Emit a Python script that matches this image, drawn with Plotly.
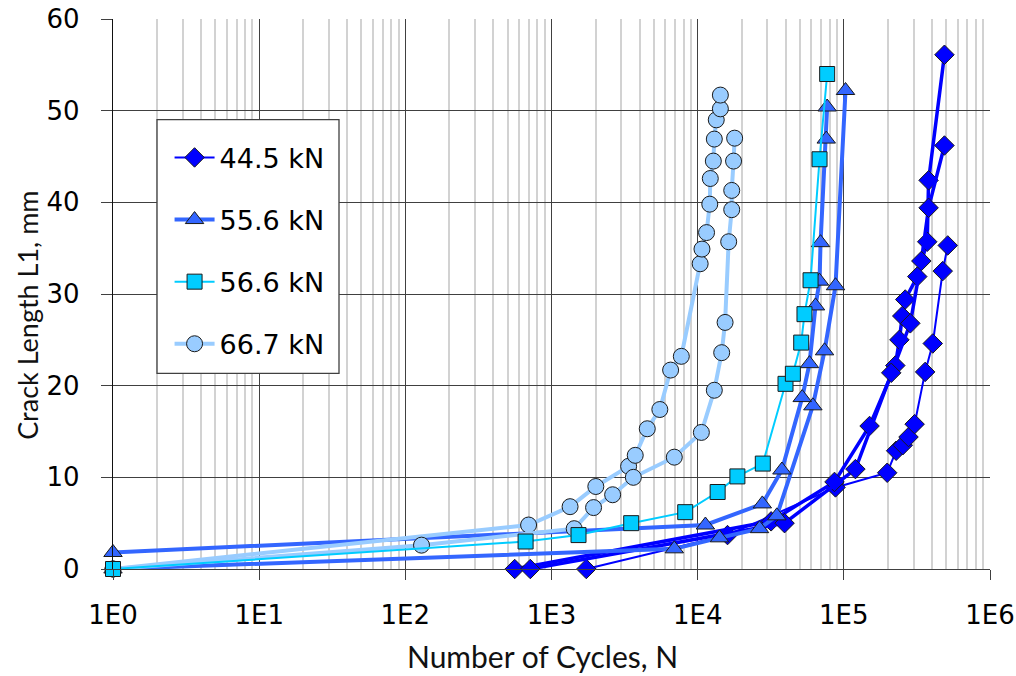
import plotly.graph_objects as go

# ---- crack growth data: cycles N and crack length L1 (mm) per specimen ----
# 44.5 kN (three specimens)
n_445_a = [560, 31800, 86300, 150000, 225000, 240000, 251000, 263000, 318000, 372000, 380000, 488000]
l_445_a = [0, 5.2, 9.5, 15.6, 22.2, 25.0, 27.6, 29.4, 31.9, 35.7, 42.4, 56.1]
n_445_b = [716, 39300, 120000, 211000, 285000, 339000, 380000, 488000]
l_445_b = [0, 5.0, 10.9, 21.4, 26.8, 33.6, 39.4, 46.2]
n_445_c = [1730, 16000, 87700, 198000, 228000, 253000, 277000, 305000, 360000, 406000, 475000, 514000]
l_445_c = [0, 3.7, 8.9, 10.5, 12.9, 13.5, 14.4, 15.8, 21.5, 24.6, 32.5, 35.3]

# 55.6 kN (two specimens)
n_556_a = [1, 6920, 14100, 26500, 34800, 61400, 73800, 87700, 102700]
l_556_a = [0, 2.2, 3.4, 4.4, 5.8, 17.8, 23.8, 30.9, 52.2]
n_556_b = [1, 11300, 27700, 37700, 51900, 58200, 64000, 68200, 69300, 75800, 76900]
l_556_b = [1.8, 4.8, 7.1, 10.8, 18.7, 22.4, 28.7, 31.4, 35.6, 46.9, 50.4]

# 56.6 kN (one specimen)
n_566 = [1, 665, 1530, 3510, 8220, 13700, 18700, 27900, 39900, 44800, 51100, 53800, 59200, 68200, 76900]
l_566 = [0, 3.0, 3.7, 5.0, 6.2, 8.4, 10.1, 11.5, 20.2, 21.3, 24.7, 27.8, 31.5, 44.7, 54.0]

# 66.7 kN (two specimens)
n_667_a = [1, 697, 1340, 2010, 3370, 3740, 4520, 5510, 6530, 7730, 10400, 10700, 11500, 12100,
           12200, 12800, 13000, 13400, 14300, 14300]
l_667_a = [0, 4.8, 6.8, 9.0, 11.2, 12.4, 15.3, 17.4, 21.7, 23.2, 33.3, 34.9, 36.7, 39.8,
           42.6, 44.5, 46.9, 49.0, 50.2, 51.7]
n_667_b = [1, 129, 1430, 1940, 2620, 3630, 6920, 10600, 13000, 14600, 15400, 16300, 17100,
           17100, 17600, 17900]
l_667_b = [0, 2.6, 4.4, 6.7, 8.1, 10.0, 12.2, 14.9, 19.5, 23.6, 26.9, 35.7, 39.2,
           41.3, 44.5, 47.0]

x_tick_vals = [1, 10, 100, 1000, 10000, 100000, 1000000]
x_tick_text = ["1E0", "1E1", "1E2", "1E3", "1E4", "1E5", "1E6"]
y_tick_vals = [0, 10, 20, 30, 40, 50, 60]

# ---- series styling ----
series = [
    # name, color, symbol, marker size, legend rank, specimens (x, y, line width)
    ("44.5 kN", "#0000FF", "diamond", 15, 1,
     [(n_445_c, l_445_c, 2), (n_445_a, l_445_a, 3.5), (n_445_b, l_445_b, 3.5)]),
    ("55.6 kN", "#3366FF", "triangle-up", 16, 2,
     [(n_556_a, l_556_a, 4), (n_556_b, l_556_b, 4)]),
    ("66.7 kN", "#99CCFF", "circle", 16, 4,
     [(n_667_a, l_667_a, 4), (n_667_b, l_667_b, 4)]),
    ("56.6 kN", "#00CCFF", "square", 15, 3,
     [(n_566, l_566, 2)]),
]

fig = go.Figure()
for name, color, symbol, msize, rank, specimens in series:
    for i, (nn, ll, w) in enumerate(specimens):
        fig.add_trace(go.Scatter(
            x=nn, y=ll, name=name, mode="lines+markers",
            legendgroup=name, showlegend=(i == 0), legendrank=rank,
            line=dict(color=color, width=w),
            marker=dict(symbol=symbol, size=msize, color=color,
                        line=dict(color="#1a1a1a", width=1)),
            cliponaxis=False,
        ))

minor_vals = [k * 10 ** d for d in range(6) for k in range(2, 10)]

fig.update_xaxes(
    type="log", range=[0, 6], automargin=False,
    tickmode="array", tickvals=x_tick_vals, ticktext=x_tick_text,
    showgrid=True, gridcolor="#404040", gridwidth=1.3,
    ticks="outside", ticklen=10, tickcolor="#404040", tickwidth=1.3,
    ticklabelstandoff=13,
    showline=True, linecolor="#404040", linewidth=1.3,
    zeroline=False,
    minor=dict(tickmode="array", tickvals=minor_vals, showgrid=True,
               gridcolor="#d2d2d2", gridwidth=1.6, ticks=""),
    tickfont=dict(family="DejaVu Sans", size=26, color="#000000"),
)
fig.update_yaxes(
    range=[0, 60], tickmode="array", tickvals=y_tick_vals, automargin=False,
    showgrid=True, gridcolor="#404040", gridwidth=1.3,
    ticks="outside", ticklen=11, tickcolor="#404040", tickwidth=1.3,
    ticklabelstandoff=16,
    showline=True, linecolor="#111111", linewidth=1.3,
    zeroline=False,
    tickfont=dict(family="DejaVu Sans", size=26, color="#000000"),
)

# legend frame (paper coordinates), drawn over the grid
box_x0, box_x1 = 0.0502, 0.2577
box_y0, box_y1 = 0.3556, 0.8170

fig.update_layout(
    width=1016, height=676,
    margin=dict(l=113, r=26, t=19, b=107),
    paper_bgcolor="white", plot_bgcolor="white",
    showlegend=True,
    legend=dict(
        x=0.0645, y=0.792, xanchor="left", yanchor="top",
        bgcolor="rgba(0,0,0,0)", borderwidth=0,
        font=dict(family="DejaVu Sans", size=27, color="#000000"),
        traceorder="grouped", tracegroupgap=24, itemwidth=40,
    ),
    shapes=[
        dict(type="rect", xref="paper", yref="paper",
             x0=box_x0, x1=box_x1, y0=box_y0, y1=box_y1,
             fillcolor="white", line=dict(color="#404040", width=1.3),
             layer="above"),
    ],
    annotations=[
        dict(text="Number of Cycles, N", xref="paper", yref="paper",
             x=0.49, y=-0.159, xanchor="center", yanchor="middle",
             showarrow=False, font=dict(family="Lato", size=30, color="#111111")),
        dict(text="Crack Length L1, mm", xref="paper", yref="paper",
             x=-0.097, y=0.462, xanchor="center", yanchor="middle", textangle=-90,
             showarrow=False, font=dict(family="Lato", size=27, color="#111111")),
    ],
)

fig.write_html("out.html")
